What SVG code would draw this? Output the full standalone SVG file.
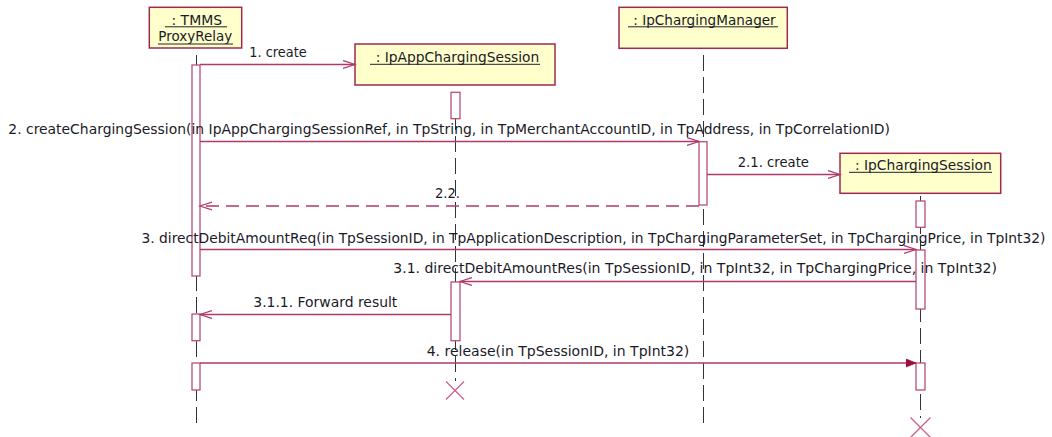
<svg xmlns="http://www.w3.org/2000/svg" width="1052" height="437" viewBox="0 0 1052 437">
<style>
.box{fill:#FFFFCC;stroke:#9E2A50;stroke-width:1.5}
.act{fill:#FFFFFF;stroke:#B84E78;stroke-width:1.3}
.life{stroke:#333333;stroke-width:1;stroke-dasharray:16 6;fill:none}
.msg{stroke:#B0386A;stroke-width:1.3;fill:none}
.ret{stroke:#B0386A;stroke-width:1.3;fill:none;stroke-dasharray:13 7}
.ul{stroke:#202030;stroke-width:1}
.kill{stroke:#C8608A;stroke-width:1.3}
text{font-family:"DejaVu Sans","Liberation Sans",sans-serif;font-size:14px;fill:#1A1A28}
</style>
<defs>
<marker id="open" markerWidth="14" markerHeight="10" refX="12" refY="4.5" orient="auto" markerUnits="userSpaceOnUse">
<path d="M0,0.5 L12,4.5 L0,8.5" fill="none" stroke="#B0386A" stroke-width="1.2"/>
</marker>
<marker id="filled" markerWidth="12" markerHeight="10" refX="10" refY="4.5" orient="auto" markerUnits="userSpaceOnUse">
<path d="M0,0.5 L10,4.5 L0,8.5 Z" fill="#99103A" stroke="#99103A" stroke-width="0.8"/>
</marker>
</defs>
<rect width="1052" height="437" fill="#FFFFFF"/>

<g id="TMMSProxyRelay">
<rect class="box" x="149.3" y="7.3" width="92.4" height="40.7"/>
<text x="171.5" y="25" textLength="50.5" lengthAdjust="spacingAndGlyphs">: TMMS</text>
<line class="ul" x1="165" y1="26.8" x2="227" y2="26.8"/>
<text x="158.3" y="41" textLength="74" lengthAdjust="spacingAndGlyphs">ProxyRelay</text>
<line class="ul" x1="158" y1="44" x2="233" y2="44"/>
<line class="life" x1="196.5" y1="55" x2="196.5" y2="427"/>
<rect class="act" x="192" y="65" width="8" height="211"/>
<rect class="act" x="192" y="314" width="8" height="26.7"/>
<rect class="act" x="192" y="363" width="8" height="27"/>
</g>

<g id="IpAppChargingSession">
<rect class="box" x="355" y="44" width="200" height="41"/>
<text x="375.7" y="62" textLength="163.6" lengthAdjust="spacingAndGlyphs">: IpAppChargingSession</text>
<line class="ul" x1="370" y1="64.3" x2="540" y2="64.3"/>
<line class="life" x1="455.5" y1="92" x2="455.5" y2="381"/>
<rect class="act" x="451" y="92.3" width="9" height="26.4"/>
<rect class="act" x="451" y="282" width="9" height="58.7"/>
<line class="kill" x1="446" y1="381.5" x2="464" y2="399.5"/>
<line class="kill" x1="464" y1="381.5" x2="446" y2="399.5"/>
</g>

<g id="IpChargingManager">
<rect class="box" x="619" y="7.3" width="168.3" height="41"/>
<text x="633.3" y="25" textLength="142.4" lengthAdjust="spacingAndGlyphs">: IpChargingManager</text>
<line class="ul" x1="628" y1="26.8" x2="778" y2="26.8"/>
<line class="life" x1="703.5" y1="55" x2="703.5" y2="427"/>
<rect class="act" x="699" y="141.7" width="8" height="63.3"/>
</g>

<g id="IpChargingSession">
<rect class="box" x="840" y="153.3" width="160.7" height="40"/>
<text x="855" y="170" textLength="136.7" lengthAdjust="spacingAndGlyphs">: IpChargingSession</text>
<line class="ul" x1="849" y1="172.3" x2="992" y2="172.3"/>
<line class="life" x1="920.5" y1="196" x2="920.5" y2="418"/>
<rect class="act" x="916" y="201" width="9" height="26.3"/>
<rect class="act" x="916" y="250" width="9" height="59"/>
<rect class="act" x="916" y="363" width="9" height="27"/>
<line class="kill" x1="910.5" y1="417.5" x2="930.5" y2="437.5"/>
<line class="kill" x1="930.5" y1="417.5" x2="910.5" y2="437.5"/>
</g>

<g id="connectors">
<line class="msg" x1="200" y1="64.5" x2="355" y2="64.5" marker-end="url(#open)"/>
<text x="249.3" y="56.5" textLength="57.4" lengthAdjust="spacingAndGlyphs">1. create</text>

<line class="msg" x1="200" y1="141.5" x2="699" y2="141.5" marker-end="url(#open)"/>
<text x="8.3" y="134" textLength="881.7" lengthAdjust="spacingAndGlyphs">2. createChargingSession(in IpAppChargingSessionRef, in TpString, in TpMerchantAccountID, in TpAddress, in TpCorrelationID)</text>

<line class="msg" x1="707" y1="174.5" x2="840" y2="174.5" marker-end="url(#open)"/>
<text x="737.7" y="166.5" textLength="71.3" lengthAdjust="spacingAndGlyphs">2.1. create</text>

<line class="ret" x1="699" y1="206" x2="200" y2="206" marker-end="url(#open)"/>
<text x="435" y="198.3" textLength="25" lengthAdjust="spacingAndGlyphs">2.2.</text>

<line class="msg" x1="200" y1="249.5" x2="916" y2="249.5" marker-end="url(#open)"/>
<text x="141.5" y="243" textLength="904" lengthAdjust="spacingAndGlyphs">3. directDebitAmountReq(in TpSessionID, in TpApplicationDescription, in TpChargingParameterSet, in TpChargingPrice, in TpInt32)</text>

<line class="msg" x1="916" y1="281.5" x2="460" y2="281.5" marker-end="url(#open)"/>
<text x="393.3" y="273" textLength="603.7" lengthAdjust="spacingAndGlyphs">3.1. directDebitAmountRes(in TpSessionID, in TpInt32, in TpChargingPrice, in TpInt32)</text>

<line class="msg" x1="451" y1="314.5" x2="200" y2="314.5" marker-end="url(#open)"/>
<text x="253.3" y="306.5" textLength="144" lengthAdjust="spacingAndGlyphs">3.1.1. Forward result</text>

<line class="msg" x1="200" y1="363" x2="916" y2="363" marker-end="url(#filled)"/>
<text x="426.7" y="355.5" textLength="262.6" lengthAdjust="spacingAndGlyphs">4. release(in TpSessionID, in TpInt32)</text>
</g>
</svg>
